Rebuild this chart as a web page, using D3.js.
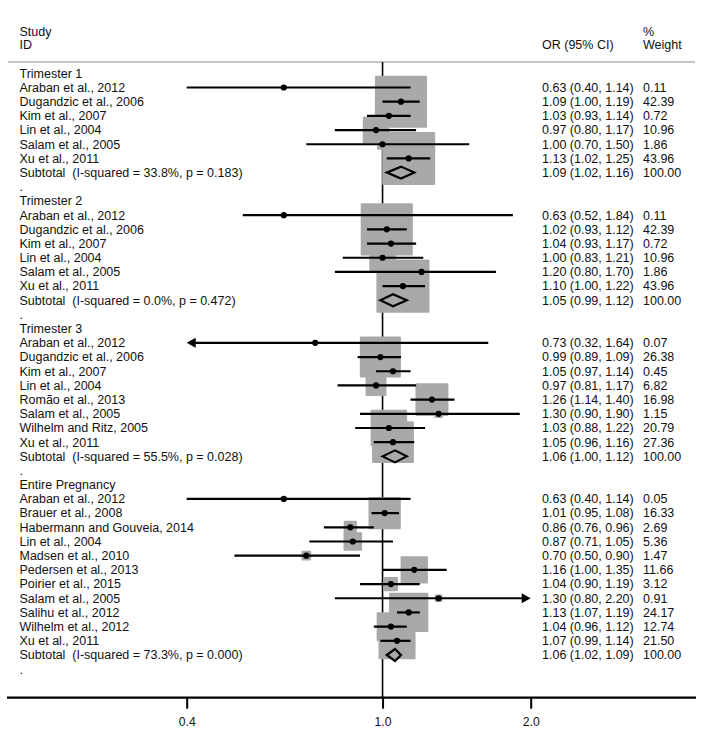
<!DOCTYPE html>
<html><head><meta charset="utf-8">
<script src="https://cdn.jsdelivr.net/npm/d3@7"></script>
<style>body{margin:0;background:#fff} text{font-family:"Liberation Sans",Arial,sans-serif;fill:#111;}</style>
</head><body><svg id="c" width="720" height="739"></svg>
<script>
// ---------------- data ----------------
const groupNames = ["Trimester 1", "Trimester 2", "Trimester 3", "Entire Pregnancy"];
const subtotalLabels = [
  "Subtotal  (I-squared = 33.8%, p = 0.183)",
  "Subtotal  (I-squared = 0.0%, p = 0.472)",
  "Subtotal  (I-squared = 55.5%, p = 0.028)",
  "Subtotal  (I-squared = 73.3%, p = 0.000)"
];
const subtotalOR = [1.09, 1.05, 1.06, 1.06];
const subtotalLo = [1.02, 0.99, 1.00, 1.02];
const subtotalHi = [1.16, 1.12, 1.12, 1.09];
const subtotalWeight = [100, 100, 100, 100];

const studyGroup = [0,0,0,0,0,0, 1,1,1,1,1,1, 2,2,2,2,2,2,2,2, 3,3,3,3,3,3,3,3,3,3,3];
const studyNames = [
  "Araban et al., 2012","Dugandzic et al., 2006","Kim et al., 2007","Lin et al., 2004","Salam et al., 2005","Xu et al., 2011",
  "Araban et al., 2012","Dugandzic et al., 2006","Kim et al., 2007","Lin et al., 2004","Salam et al., 2005","Xu et al., 2011",
  "Araban et al., 2012","Dugandzic et al., 2006","Kim et al., 2007","Lin et al., 2004","Romão et al., 2013","Salam et al., 2005","Wilhelm and Ritz, 2005","Xu et al., 2011",
  "Araban et al., 2012","Brauer et al., 2008","Habermann and Gouveia, 2014","Lin et al., 2004","Madsen et al., 2010","Pedersen et al., 2013","Poirier et al., 2015","Salam et al., 2005","Salihu et al., 2012","Wilhelm et al., 2012","Xu et al., 2011"
];
const studyOR = [0.63,1.09,1.03,0.97,1.00,1.13, 0.63,1.02,1.04,1.00,1.20,1.10, 0.73,0.99,1.05,0.97,1.26,1.30,1.03,1.05, 0.63,1.01,0.86,0.87,0.70,1.16,1.04,1.30,1.13,1.04,1.07];
const studyLo = [0.40,1.00,0.93,0.80,0.70,1.02, 0.52,0.93,0.93,0.83,0.80,1.00, 0.32,0.89,0.97,0.81,1.14,0.90,0.88,0.96, 0.40,0.95,0.76,0.71,0.50,1.00,0.90,0.80,1.07,0.96,0.99];
const studyHi = [1.14,1.19,1.14,1.17,1.50,1.25, 1.84,1.12,1.17,1.21,1.70,1.22, 1.64,1.09,1.14,1.17,1.40,1.90,1.22,1.16, 1.14,1.08,0.96,1.05,0.90,1.35,1.19,2.20,1.19,1.12,1.14];
const studyWeight = [0.11,42.39,0.72,10.96,1.86,43.96, 0.11,42.39,0.72,10.96,1.86,43.96, 0.07,26.38,0.45,6.82,16.98,1.15,20.79,27.36, 0.05,16.33,2.69,5.36,1.47,11.66,3.12,0.91,24.17,12.74,21.50];

const tickValues = [0.4, 1.0, 2.0];
const axisMin = 0.4, axisMax = 2.0;

// ---------------- layout ----------------
const svg = d3.select("#c");
const fs = 12.5;
const fmt = d3.format(".2f");

const rows = [];
let r = 0;
groupNames.forEach((g, gi) => {
  rows.push({type: "header", label: g, row: r++});
  studyNames.forEach((n, i) => { if (studyGroup[i] === gi) rows.push({type: "study", i, row: r++}); });
  rows.push({type: "sub", gi, row: r++});
  rows.push({type: "blank", row: r++});
});

const y = d3.scaleLinear().domain([0, 41]).range([73.3, 655]);
const x = d3.scaleLog().domain([axisMin, axisMax]).range([186.7, 530.7]);
const side = d3.scaleSqrt().domain([0, 100]).range([0, 80]);

const axisY = 697.7;
const refTop = 62;

// header
const hdr = svg.append("g").style("font-size", fs + "px");
hdr.append("text").attr("x", 19.5).attr("y", 31.7).attr("dy", "0.35em").text("Study");
hdr.append("text").attr("x", 19.5).attr("y", 45).attr("dy", "0.35em").text("ID");
hdr.append("text").attr("x", 542).attr("y", 45).attr("dy", "0.35em").text("OR (95% CI)");
hdr.append("text").attr("x", 643).attr("y", 31.7).attr("dy", "0.35em").text("%");
hdr.append("text").attr("x", 643).attr("y", 45).attr("dy", "0.35em").text("Weight");
svg.append("line").attr("x1", 8).attr("x2", 695).attr("y1", 62).attr("y2", 62)
  .attr("stroke", "#b3b3b3").attr("stroke-width", 1.5);

// reference line at 1.0
svg.append("line").attr("x1", x(1)).attr("x2", x(1)).attr("y1", refTop).attr("y2", axisY)
  .attr("stroke", "#000").attr("stroke-width", 1.6);

const studyRows = rows.filter(d => d.type === "study");
const subRows = rows.filter(d => d.type === "sub");

// boxes
svg.append("g").selectAll("rect").data(studyRows).join("rect")
  .attr("x", d => x(studyOR[d.i]) - side(studyWeight[d.i]) / 2)
  .attr("y", d => y(d.row) - side(studyWeight[d.i]) / 2)
  .attr("width", d => side(studyWeight[d.i]))
  .attr("height", d => side(studyWeight[d.i]))
  .attr("rx", 1)
  .attr("fill", "#a9a9a9");

// CI lines with arrows when clipped
const ci = svg.append("g");
studyRows.forEach(d => {
  const lo = studyLo[d.i], hi = studyHi[d.i], yy = y(d.row);
  const clipLo = lo < axisMin, clipHi = hi > axisMax;
  const xl = x(Math.max(lo, axisMin)), xh = x(Math.min(hi, axisMax));
  const aL = 9, aH = 5;
  ci.append("line").attr("x1", clipLo ? xl + aL - 1 : xl).attr("x2", clipHi ? xh - aL + 1 : xh)
    .attr("y1", yy).attr("y2", yy).attr("stroke", "#000").attr("stroke-width", 2.2);
  if (clipLo) ci.append("path").attr("d", `M${xl},${yy}L${xl + aL},${yy - aH}L${xl + aL},${yy + aH}Z`).attr("fill", "#000");
  if (clipHi) ci.append("path").attr("d", `M${xh},${yy}L${xh - aL},${yy - aH}L${xh - aL},${yy + aH}Z`).attr("fill", "#000");
});

// points
svg.append("g").selectAll("circle").data(studyRows).join("circle")
  .attr("cx", d => x(studyOR[d.i])).attr("cy", d => y(d.row)).attr("r", 3.1).attr("fill", "#000");

// diamonds
svg.append("g").selectAll("path").data(subRows).join("path")
  .attr("d", d => {
    const yy = y(d.row), h = 6;
    return `M${x(subtotalLo[d.gi])},${yy}L${x(subtotalOR[d.gi])},${yy - h}L${x(subtotalHi[d.gi])},${yy}L${x(subtotalOR[d.gi])},${yy + h}Z`;
  })
  .attr("fill", "none").attr("stroke", "#000").attr("stroke-width", 2.2).attr("stroke-linejoin", "miter");

// left labels
const lab = svg.append("g").style("font-size", fs + "px").style("white-space", "pre");
lab.selectAll("text").data(rows).join("text")
  .attr("x", 19.5).attr("y", d => y(d.row)).attr("dy", "0.35em")
  .attr("xml:space", "preserve")
  .text(d => d.type === "header" ? d.label : d.type === "study" ? studyNames[d.i] : d.type === "sub" ? subtotalLabels[d.gi] : ".");

// right columns
const rc = svg.append("g").style("font-size", fs + "px");
rc.selectAll("text.or").data(rows.filter(d => d.type === "study" || d.type === "sub")).join("text")
  .attr("class", "or").attr("x", 542).attr("y", d => y(d.row)).attr("dy", "0.35em")
  .text(d => d.type === "study"
    ? `${fmt(studyOR[d.i])} (${fmt(studyLo[d.i])}, ${fmt(studyHi[d.i])})`
    : `${fmt(subtotalOR[d.gi])} (${fmt(subtotalLo[d.gi])}, ${fmt(subtotalHi[d.gi])})`);
rc.selectAll("text.w").data(rows.filter(d => d.type === "study" || d.type === "sub")).join("text")
  .attr("class", "w").attr("x", 643).attr("y", d => y(d.row)).attr("dy", "0.35em")
  .text(d => d.type === "study" ? fmt(studyWeight[d.i]) : fmt(subtotalWeight[d.gi]));

// axis
svg.append("line").attr("x1", 7).attr("x2", 696).attr("y1", axisY).attr("y2", axisY)
  .attr("stroke", "#000").attr("stroke-width", 2.2);
const ax = svg.append("g").attr("transform", `translate(0,${axisY})`)
  .call(d3.axisBottom(x).tickValues(tickValues).tickFormat(d3.format(".1f")).tickSize(11).tickPadding(8.5));
ax.select(".domain").remove();
ax.selectAll(".tick line").attr("stroke", "#000").attr("stroke-width", 2);
ax.selectAll(".tick text").style("font-family", '"Liberation Sans",Arial,sans-serif').style("font-size", "12.2px").attr("fill", "#111");
</script></body></html>
